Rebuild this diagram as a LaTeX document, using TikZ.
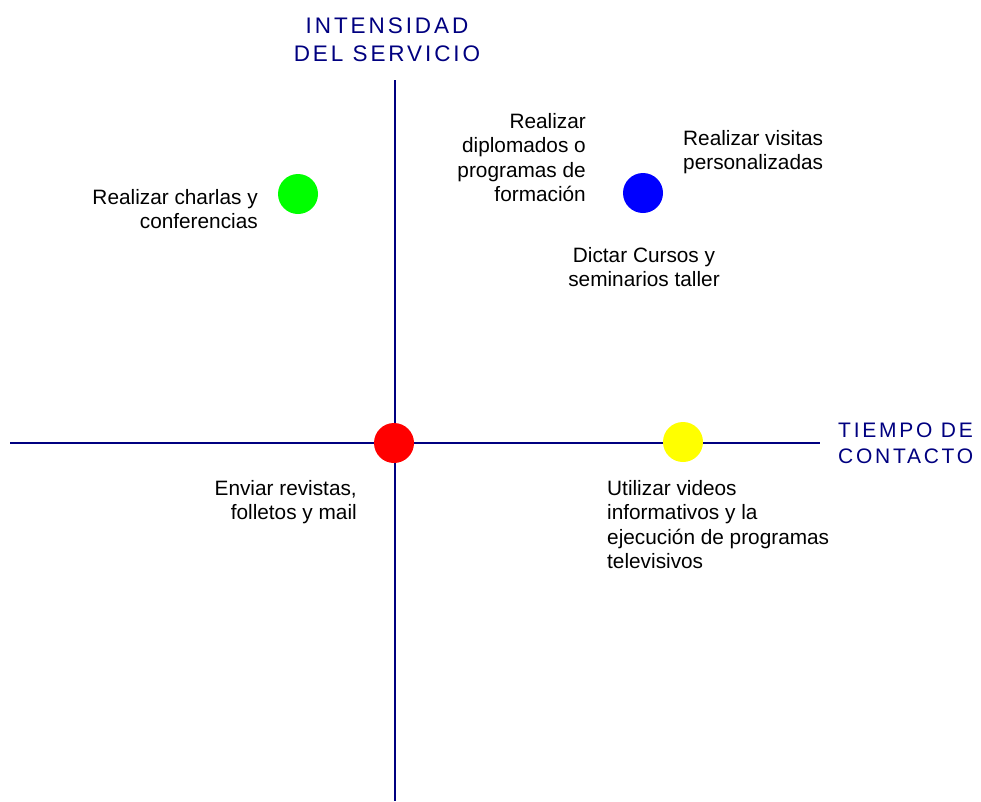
\documentclass[tikz,border=0pt]{standalone}
\usepackage{fontspec}
\setmainfont{Liberation Sans}
\newfontfamily\spacedfont[LetterSpace=13]{Liberation Sans}
\definecolor{axisblue}{RGB}{0,0,128}
\definecolor{dotgreen}{RGB}{0,255,0}
\definecolor{dotblue}{RGB}{0,0,255}
\definecolor{dotred}{RGB}{255,0,0}
\definecolor{dotyellow}{RGB}{255,255,0}
\tikzset{
  axisline/.style={draw=axisblue, line width=1.6pt},
  dot/.style={circle, minimum size=40pt, inner sep=0pt, draw=none},
  lbl/.style={inner sep=0pt, font=\fontsize{20.8pt}{24.5pt}\selectfont, text=black},
  axlbl/.style={inner sep=0pt, font=\fontsize{21pt}{26pt}\selectfont\spacedfont, text=axisblue},
  axlblbig/.style={inner sep=0pt, font=\fontsize{22.5pt}{28pt}\selectfont\spacedfont, text=axisblue},
}
\begin{document}
\begin{tikzpicture}[x=1pt,y=-1pt]
\useasboundingbox[fill=white] (0,0) rectangle (981,801);
% axes
\coordinate (vtop) at (395,80);
\coordinate (vbot) at (395,801);
\coordinate (hleft) at (10,443);
\coordinate (hright) at (820,443);
\draw[axisline] (vtop) -- (vbot);
\draw[axisline] (hleft) -- (hright);
% axis labels
\node[axlblbig, anchor=north, align=center] (ylabel) at (387,18) {INTENSIDAD\\DEL SERVICIO};
\node[axlbl, anchor=north west, align=left] (xlabel) at (838,423) {TIEMPO DE\\CONTACTO};
% dots
\node[dot, fill=dotgreen] (green) at (298,194) {};
\node[dot, fill=dotblue] (blue) at (643,193) {};
\node[dot, fill=dotred] (red) at (394,443) {};
\node[dot, fill=dotyellow] (yellow) at (683,442) {};
% labels
\node[lbl, anchor=north east, align=right] (charlas) at (258,189) {Realizar charlas y\\conferencias};
\node[lbl, anchor=north east, align=right] (diplomados) at (586,113) {Realizar\\diplomados o\\programas de\\formación};
\node[lbl, anchor=north west, align=left] (visitas) at (683,130) {Realizar visitas\\personalizadas};
\node[lbl, anchor=north, align=center] (cursos) at (644,247) {Dictar Cursos y\\seminarios taller};
\node[lbl, anchor=north east, align=right] (revistas) at (357,480) {Enviar revistas,\\folletos y mail};
\node[lbl, anchor=north west, align=left] (videos) at (607,480) {Utilizar videos\\informativos y la\\ejecución de programas\\televisivos};
\end{tikzpicture}
\end{document}
